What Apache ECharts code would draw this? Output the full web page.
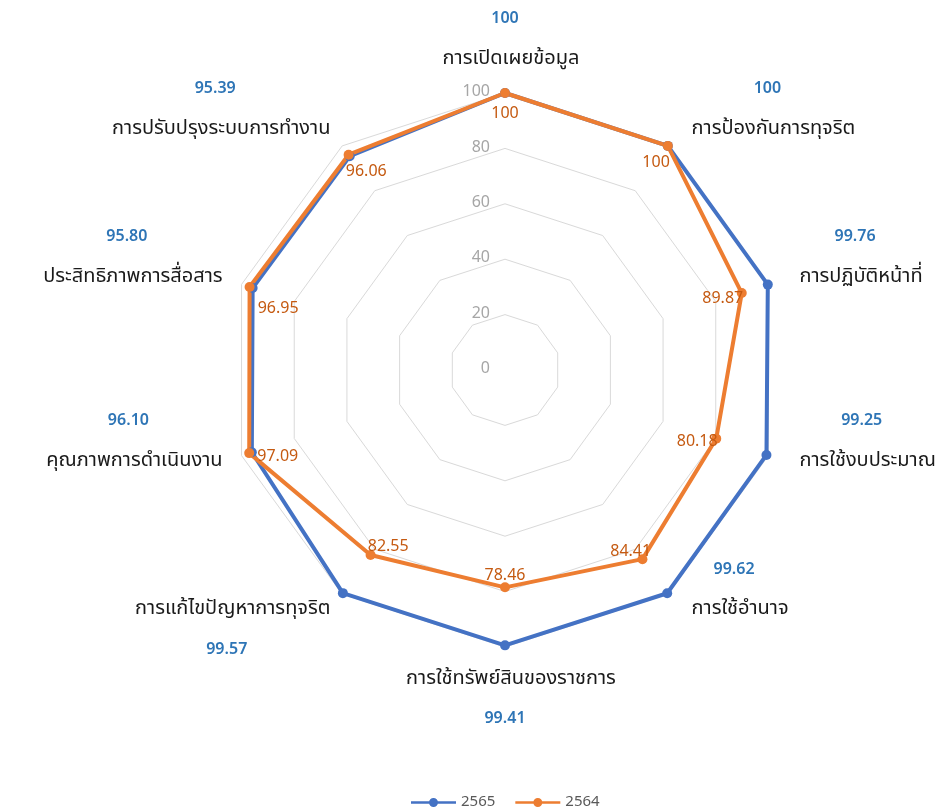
<!DOCTYPE html>
<html><head><meta charset="utf-8">
<script src="https://cdn.jsdelivr.net/npm/echarts@6/dist/echarts.min.js"></script>
<style>html,body{margin:0;padding:0;background:#fff}#c{width:945px;height:812px}</style>
</head><body><div id="c"></div>
<script>
// Indicators listed clockwise, starting at the top
const categories = ['การเปิดเผยข้อมูล','การป้องกันการทุจริต','การปฏิบัติหน้าที่','การใช้งบประมาณ','การใช้อำนาจ','การใช้ทรัพย์สินของราชการ','การแก้ไขปัญหาการทุจริต','คุณภาพการดำเนินงาน','ประสิทธิภาพการสื่อสาร','การปรับปรุงระบบการทำงาน'];
const values2565 = [100,100,99.76,99.25,99.62,99.41,99.57,96.10,95.80,95.39];
const values2564 = [100,100,89.87,80.18,84.41,78.46,82.55,97.09,96.95,96.06];
const seriesNames = ['2565','2564'];
const axisMin = 0, axisMax = 100, axisSplits = 5;

const CX = 505, CY = 370, RADIUS = 277;
const FONT = "'Noto Sans Thai','Noto Sans','Open Sans',sans-serif";
const fmt = v => Number.isInteger(v) ? String(v) : v.toFixed(2);

// ECharts lays indicators counter-clockwise; reorder so the picture runs clockwise
const order = [0].concat(categories.slice(1).map((_, i) => categories.length - 1 - i));
const indicators = order.map((k, j) => {
  const ind = { name: categories[k], min: axisMin, max: axisMax };
  if (j === 0) ind.axisLabel = { show: true };
  return ind;
});
const reorder = arr => order.map(k => arr[k]);

function nameFormatter(name) {
  const i = categories.indexOf(name);
  const v = fmt(values2565[i]);
  if (i === 0) return '{v|' + v + '}\n{n|' + name + '}';
  if (i === 5) return '{n|' + name + '}\n{v|' + v + '}';
  if (i === 6) return '{e| }\n{n|' + name + '}\n{v|' + v + '}';
  return '{v|' + v + '}\n{n|' + name + '}\n{e| }';
}

const chart = echarts.init(document.getElementById('c'), null, { renderer: 'canvas' });
chart.setOption({
  animation: false,
  backgroundColor: '#ffffff',
  color: ['#4472C4', '#ED7D31'],
  legend: {
    data: seriesNames,
    top: 790,
    left: 406,
    itemWidth: 45,
    itemHeight: 9,
    itemGap: 20,
    icon: 'path://M0,3.2h45v2.6h-45z M27,4.5a4.5,4.5 0 1,1 -9,0a4.5,4.5 0 1,1 9,0z',
    textStyle: { color: '#595959', fontSize: 15, fontFamily: FONT }
  },
  radar: {
    center: [CX, CY],
    radius: RADIUS,
    shape: 'polygon',
    splitNumber: axisSplits,
    axisNameGap: 20,
    indicator: indicators,
    axisName: {
      color: '#1A1A1A',
      fontSize: 20,
      fontFamily: FONT,
      formatter: nameFormatter,
      rich: {
        v: { color: '#2E75B6', fontSize: 16, fontWeight: 600, lineHeight: 54, align: 'center', fontFamily: FONT },
        n: { color: '#1A1A1A', fontSize: 20, lineHeight: 26, fontFamily: FONT, padding: [0, 0, 0, 12] },
        e: { fontSize: 14, lineHeight: 54 }
      }
    },
    axisLine: { show: false },
    axisTick: { show: false },
    axisLabel: { show: false, color: '#A6A6A6', fontSize: 16, margin: 15, fontFamily: FONT },
    splitLine: { lineStyle: { color: '#D9D9D9', width: 1 } },
    splitArea: { show: false }
  },
  series: [
    {
      type: 'radar',
      name: seriesNames[0],
      symbol: 'circle',
      symbolSize: 10,
      lineStyle: { width: 4 },
      label: { show: false },
      data: [{ name: seriesNames[0], value: reorder(values2565) }]
    },
    {
      type: 'radar',
      name: seriesNames[1],
      symbol: 'circle',
      symbolSize: 10,
      lineStyle: { width: 4 },
      label: {
        show: true,
        position: 'inside',
        color: '#C55A11',
        fontSize: 16,
        fontFamily: FONT,
        formatter: p => fmt(Array.isArray(p.value) ? p.value[0] : p.value)
      },
      labelLayout: function (p) {
        const r = p.rect;
        const x = r.x + r.width / 2, y = r.y + r.height / 2;
        const dx = CX - x, dy = CY - y;
        const len = Math.hypot(dx, dy) || 1;
        const ux = dx / len, uy = dy / len;
        const leftSide = x < CX - 1;
        return {
          dx: ux * (leftSide ? 30 : 20),
          dy: uy * 22 + (y > CY ? 11 : (leftSide && Math.abs(uy) < 0.5 ? 16 : 0))
        };
      },
      data: [{ name: seriesNames[1], value: reorder(values2564) }]
    }
  ]
});
</script>
</body></html>
